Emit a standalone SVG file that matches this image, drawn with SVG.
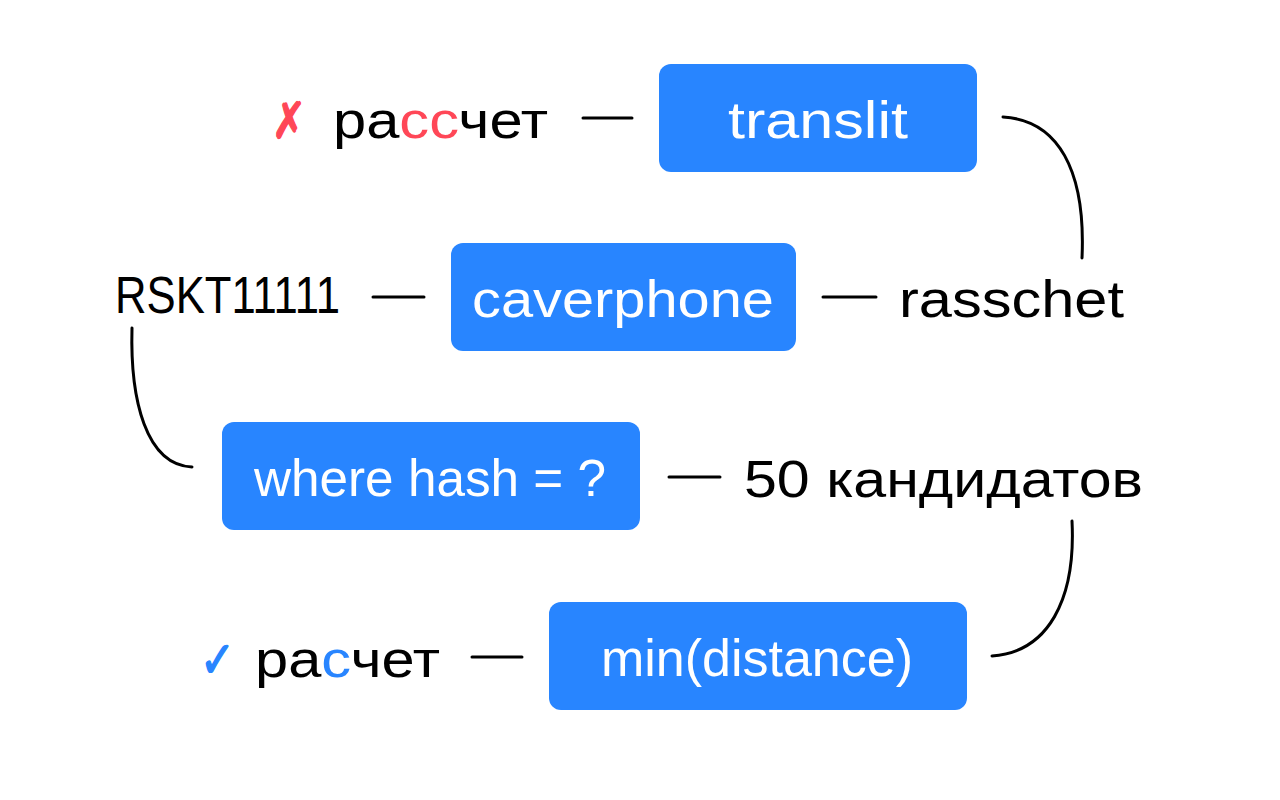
<svg xmlns="http://www.w3.org/2000/svg" width="1280" height="800" viewBox="0 0 1280 800">
<style>
.box{fill:#2885FF}
.bt{fill:#FFFFFF;font-family:"Liberation Sans","Noto Sans",sans-serif;font-size:52px;text-anchor:middle}
.lt{fill:#000000;font-family:"Liberation Sans","Noto Sans",sans-serif;font-size:52px}
.sym{font-family:"DejaVu Sans",sans-serif;font-size:50px;stroke-width:1.5}
.red{fill:#FF4757;stroke:#FF4757}
.blue{fill:#2885FF;stroke:#2885FF}
.red2{fill:#FF4757}
.blue2{fill:#2885FF}
.ln{fill:none;stroke:#000000;stroke-width:3;stroke-linecap:round}
</style>
<rect width="1280" height="800" fill="#FFFFFF"/>
<g id="connectors">
<path class="ln" d="M583 118 H632"/>
<path class="ln" d="M1003 117 C1058 120 1086 170 1082 258"/>
<path class="ln" d="M373 297 H424"/>
<path class="ln" d="M823 297 H876"/>
<path class="ln" d="M132 328 C130 400 146 465 192 467"/>
<path class="ln" d="M669 477 H720"/>
<path class="ln" d="M1072 521 C1076 600 1048 652 992 656"/>
<path class="ln" d="M472 657 H522"/>
</g>
<g id="label-wrong">
<text class="sym red" x="272" y="138" textLength="34" lengthAdjust="spacingAndGlyphs">✗</text>
<text class="lt" x="333" y="138" textLength="215" lengthAdjust="spacingAndGlyphs">ра<tspan class="red2">сс</tspan>чет</text>
</g>
<g id="node-translit">
<rect class="box" x="659" y="64" width="318" height="108" rx="12"/>
<text class="bt" x="818" y="138" textLength="180" lengthAdjust="spacingAndGlyphs">translit</text>
</g>
<g id="label-rsk">
<text class="lt" x="115" y="313" font-size="47" textLength="225" lengthAdjust="spacingAndGlyphs">RSKT11111</text>
</g>
<g id="node-caverphone">
<rect class="box" x="451" y="243" width="345" height="108" rx="12"/>
<text class="bt" x="623" y="317" textLength="302" lengthAdjust="spacingAndGlyphs">caverphone</text>
</g>
<g id="label-rasschet">
<text class="lt" x="899" y="317" textLength="225" lengthAdjust="spacingAndGlyphs">rasschet</text>
</g>
<g id="node-where">
<rect class="box" x="222" y="422" width="418" height="108" rx="12"/>
<text class="bt" x="430" y="496" textLength="352" lengthAdjust="spacingAndGlyphs">where hash = ?</text>
</g>
<g id="label-candidates">
<text class="lt" x="744" y="497" textLength="399" lengthAdjust="spacingAndGlyphs">50 кандидатов</text>
</g>
<g id="label-right">
<text class="sym blue" x="200" y="677" textLength="35" lengthAdjust="spacingAndGlyphs">✓</text>
<text class="lt" x="255" y="677" textLength="185" lengthAdjust="spacingAndGlyphs">ра<tspan class="blue2">с</tspan>чет</text>
</g>
<g id="node-min">
<rect class="box" x="549" y="602" width="418" height="108" rx="12"/>
<text class="bt" x="757" y="676" textLength="312" lengthAdjust="spacingAndGlyphs">min(distance)</text>
</g>
</svg>
